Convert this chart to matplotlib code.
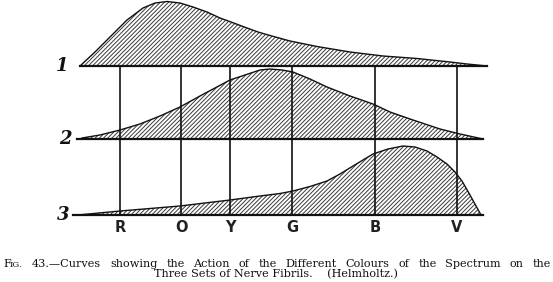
"""Helmholtz, Fig. 43: action of spectral colours on the three sets of nerve fibrils."""

import matplotlib.pyplot as plt

plt.rcParams["hatch.linewidth"] = 0.7

# spectral positions of the colour lines
colour_names = ["R", "O", "Y", "G", "B", "V"]
colour_pos = [120, 181, 230, 292, 375, 457]

# curve 1 (red fibrils)
curve1_x = [80, 95, 110, 127, 143, 155, 167, 180, 193, 207, 220, 235, 247,
            258, 270, 290, 317, 350, 383, 417, 450, 467, 487]
curve1_h = [0, 14, 29, 46, 58, 63, 64.5, 63, 59, 54, 48, 42.5, 38,
            34, 30.5, 25, 19.5, 14, 10, 7.5, 4, 2, 0]

# curve 2 (green fibrils)
curve2_x = [82, 100, 120, 140, 160, 180, 200, 215, 230, 245, 260, 270,
            282, 293, 310, 327, 350, 373, 390, 410, 425, 440, 460, 483]
curve2_h = [1, 4, 9, 15, 23, 32, 43, 51, 59, 64, 69, 70,
            69, 67, 60, 52, 43, 35, 27, 20, 15, 10, 5, 0]

# curve 3 (violet fibrils)
curve3_x = [78, 120, 180, 230, 260, 280, 293, 310, 327, 340, 353, 363, 373,
            388, 403, 415, 427, 437, 447, 455, 462, 470, 481]
curve3_h = [0, 4, 9, 15, 19, 21.5, 24, 28.5, 34, 41, 49, 55, 61,
            66, 69, 68, 64, 58, 51, 43, 34, 20, 0]

curve_labels = ["1", "2", "3"]

caption1 = "43.\u2014Curves showing the Action of the Different Colours of the Spectrum on the"
caption2 = "Three Sets of Nerve Fibrils.    (Helmholtz.)"

# layout (pixel-like units, y grows downward)
BASELINES = [66, 139, 215]
LINE_SPANS = [(80, 487), (77, 483), (73, 483)]
LABEL_X = [68, 72, 69]
CAP_FONT = dict(family="DejaVu Serif", color="#111111", fontsize=8.1)

fig = plt.figure(figsize=(5.53, 2.82), dpi=100)
ax = fig.add_axes([0, 0, 1, 1])
ax.set_xlim(0, 553)
ax.set_ylim(282, 0)
ax.axis("off")

curves = [(curve1_x, curve1_h), (curve2_x, curve2_h), (curve3_x, curve3_h)]
for (xs, hs), base, span, lab, lx in zip(curves, BASELINES, LINE_SPANS,
                                           curve_labels, LABEL_X):
    ys = [base - h for h in hs]
    ax.fill_between(xs, ys, base, facecolor="white", edgecolor="#3a3a3a",
                    hatch="////////", linewidth=0, zorder=2)
    ax.plot(xs, ys, color="#111111", linewidth=1.0, zorder=3)
    ax.plot(span, [base, base], color="#111111", linewidth=1.6, zorder=4)
    ax.text(lx, base, lab, ha="right", va="center", fontsize=13,
            family="DejaVu Serif", style="italic", weight="bold", color="#111111")

for name, x in zip(colour_names, colour_pos):
    ax.plot([x, x], [BASELINES[0], BASELINES[2]], color="#111111",
            linewidth=1.2, zorder=4)
    ax.text(x, 228, name, ha="center", va="center", fontsize=10.5,
            family="DejaVu Sans", weight="bold", color="#222222")

# caption, first line justified between x=32 and x=551 like the printed page
ax.text(3, 267, "F", ha="left", va="baseline", **CAP_FONT)
ax.text(9.8, 267, "IG.", ha="left", va="baseline", family="DejaVu Serif",
        color="#111111", fontsize=6.1)

fig.canvas.draw()
renderer = fig.canvas.get_renderer()
words = caption1.split()
widths = []
for w in words:
    t = ax.text(0, 0, w, **CAP_FONT)
    widths.append(t.get_window_extent(renderer).width)
    t.remove()
left, right = 32, 551
gap = (right - left - sum(widths)) / (len(words) - 1)
x = left
for w, wd in zip(words, widths):
    ax.text(x, 267, w, ha="left", va="baseline", **CAP_FONT)
    x += wd + gap

ax.text(276, 277.5, caption2, ha="center", va="baseline", **CAP_FONT)

fig.savefig("out.png", dpi=100)
